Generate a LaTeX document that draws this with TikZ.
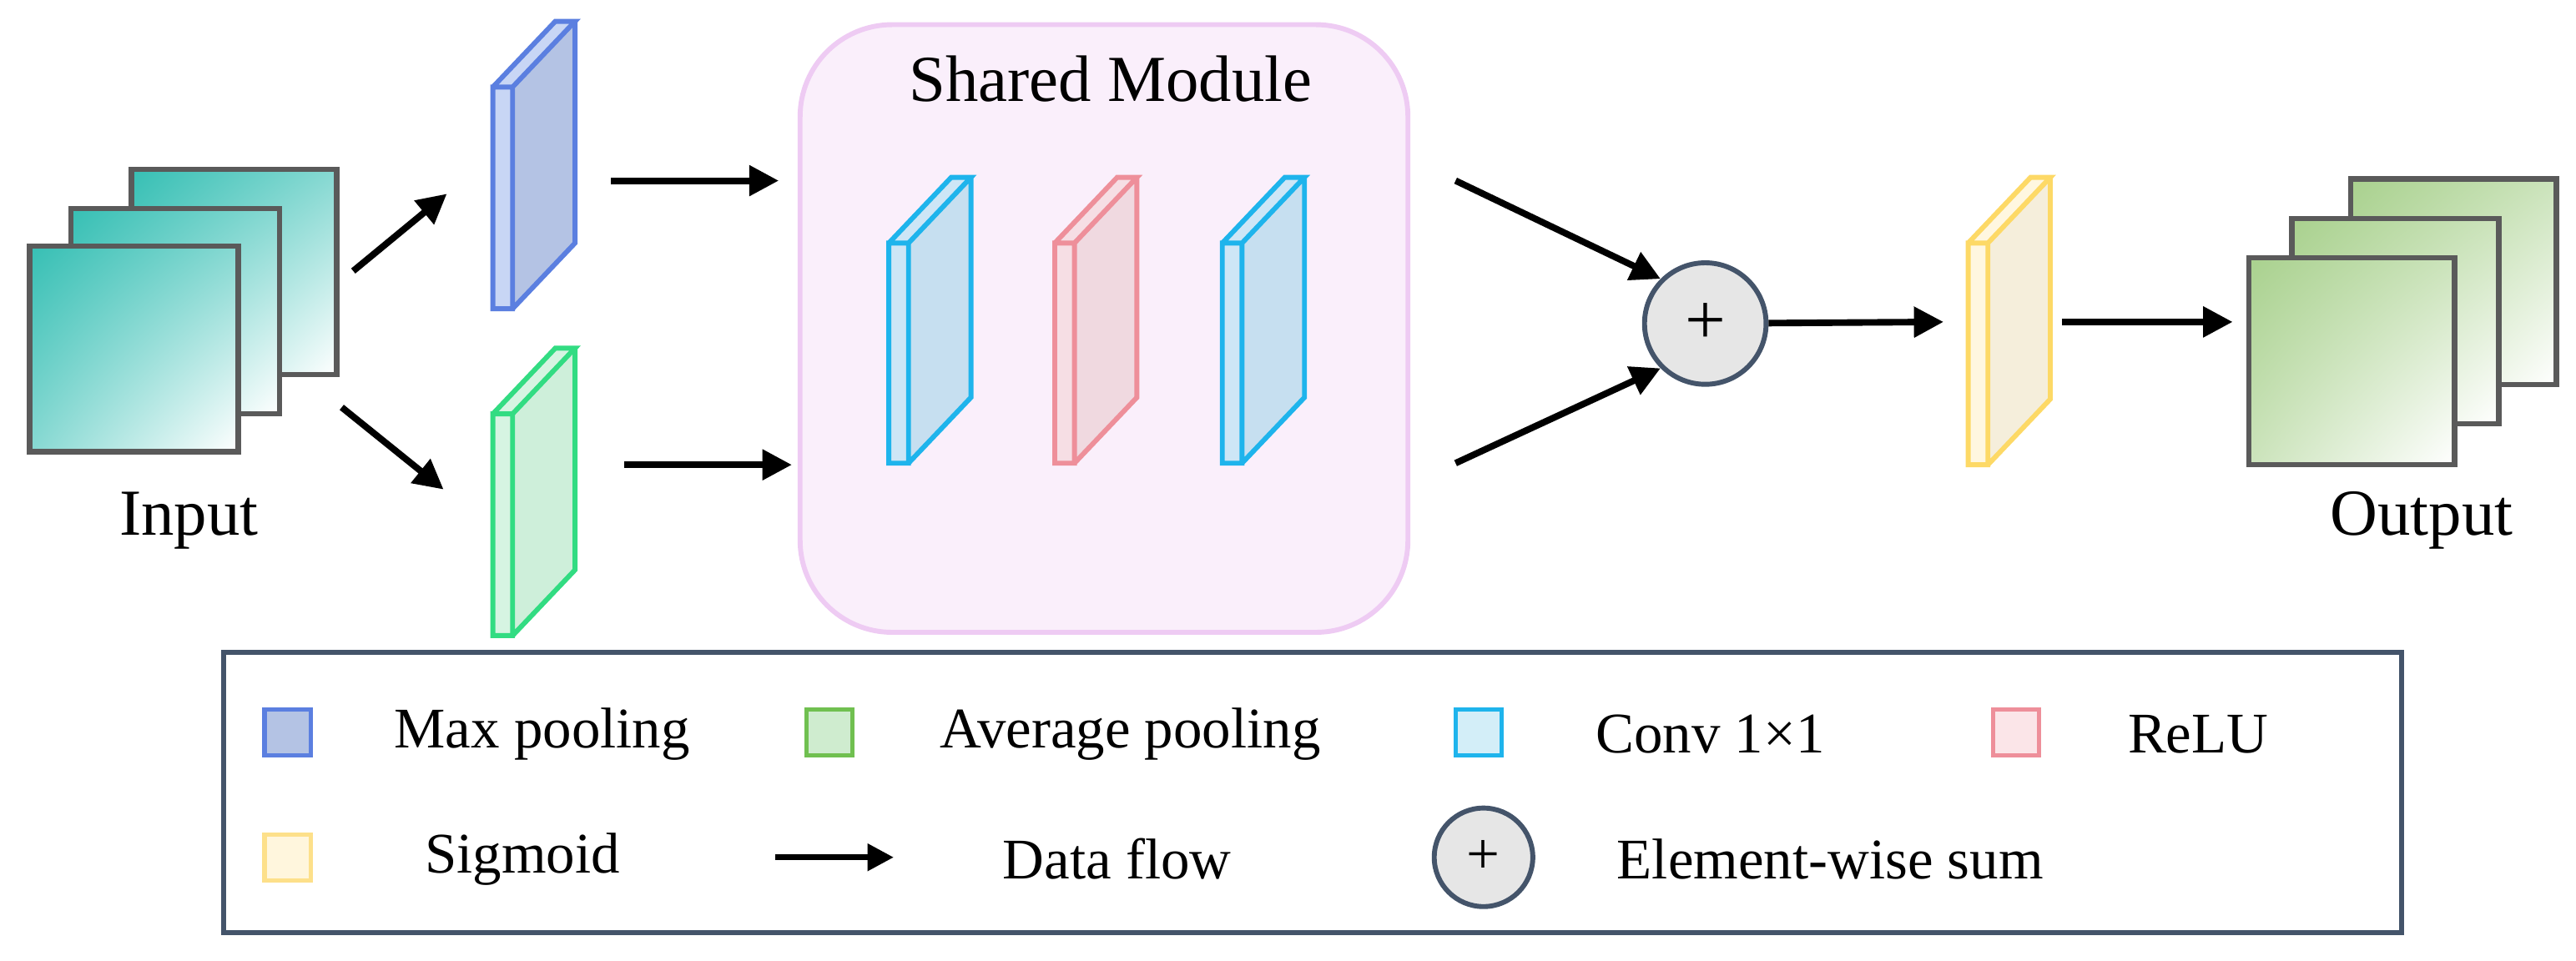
\documentclass[tikz,border=0pt]{standalone}
\usepackage{fontspec}
\setmainfont{Liberation Serif}
\usetikzlibrary{arrows.meta,shadings}
\definecolor{teal1}{HTML}{36BFB4}
\definecolor{gr1}{HTML}{A9D18E}
\definecolor{frm}{HTML}{5A5A5A}
\definecolor{navy}{HTML}{44546A}
\definecolor{bB}{RGB}{91,127,224}\definecolor{bF}{RGB}{180,195,228}\definecolor{bS}{RGB}{200,214,245}
\definecolor{gB}{RGB}{50,220,130}\definecolor{gF}{RGB}{206,239,218}\definecolor{gS}{RGB}{214,244,226}
\definecolor{cB}{RGB}{30,180,236}\definecolor{cF}{RGB}{198,223,240}\definecolor{cS}{RGB}{205,230,246}
\definecolor{rB}{RGB}{238,143,154}\definecolor{rF}{RGB}{240,217,224}\definecolor{rS}{RGB}{246,222,228}
\definecolor{yB}{RGB}{253,217,102}\definecolor{yF}{RGB}{245,238,219}\definecolor{yS}{RGB}{255,247,224}
\definecolor{smB}{RGB}{238,203,243}\definecolor{smF}{RGB}{250,239,251}
\definecolor{sumF}{RGB}{230,230,230}
\definecolor{lgB}{RGB}{112,192,80}\definecolor{lgF}{RGB}{207,236,207}
\definecolor{lcF}{RGB}{211,238,248}\definecolor{lrF}{RGB}{251,229,232}
\definecolor{lyB}{RGB}{253,224,138}\definecolor{lyF}{RGB}{255,246,221}
\newcommand\myslab[6]{% x, ytop(front), h, border, fill, frontfill
 \fill[fill=#5] (#1+12,#2) -- (#1+12+38,#2-40) -- (#1+12+38,#2-40+#3) -- (#1+12,#2+#3) -- cycle;
 \fill[fill=#6] (#1,#2) rectangle (#1+12,#2+#3);
 \fill[fill=#6] (#1,#2) -- (#1+38,#2-40) -- (#1+50,#2-40) -- (#1+12,#2) -- cycle;
 \draw[draw=#4,line width=1.5pt,line join=miter] (#1,#2) rectangle (#1+12,#2+#3)
   (#1,#2) -- (#1+38,#2-40) -- (#1+50,#2-40) -- (#1+12,#2)
   (#1+50,#2-40) -- (#1+50,#2-40+#3) -- (#1+12,#2+#3);}
\newcommand\mysheet[5]{% x1,y1,x2,y2,colour
 \shade[upper left=#5,upper right=#5!60!white,lower left=#5!60!white,lower right=white] (#1,#2) rectangle (#3,#4);
 \draw[frm,line width=1.6pt] (#1,#2) rectangle (#3,#4);}
\begin{document}
\begin{tikzpicture}[x=0.5pt,y=-0.5pt,
  flow/.style={line width=2pt,-{Triangle[length=9pt,width=9pt]}},
  lab/.style={font=\fontsize{20}{24}\selectfont},
  leg/.style={font=\fontsize{17.5}{21}\selectfont},
  icon/.style={line width=1.3pt,minimum size=14pt,inner sep=0pt}]
\useasboundingbox (0,0) rectangle (1568,585);
% input
\mysheet{80}{103}{205}{228}{teal1}
\mysheet{43}{127}{170}{252}{teal1}
\mysheet{18}{150}{145}{275}{teal1}
\node[lab] (inp) at (115,317) {Input};
% pooling slabs
\myslab{300}{53}{135}{bB}{bF}{bS}
\myslab{300}{252}{135}{gB}{gF}{gS}
\coordinate (a1s) at (215,165); \coordinate (a1e) at (272,118);
\coordinate (a2s) at (208,248); \coordinate (a2e) at (270,298);
\draw[flow] (a1s) -- (a1e); \draw[flow] (a2s) -- (a2e);
\coordinate (b1s) at (372,110); \coordinate (b1e) at (474,110);
\coordinate (b2s) at (380,283); \coordinate (b2e) at (482,283);
\draw[flow] (b1s) -- (b1e); \draw[flow] (b2s) -- (b2e);
% shared module
\draw[draw=smB,fill=smF,line width=1.5pt,rounded corners=28pt] (487,15) rectangle (857,385);
\node[lab] (sm) at (676,48) {Shared Module};
\myslab{541}{148}{134}{cB}{cF}{cS}
\myslab{642}{148}{134}{rB}{rF}{rS}
\myslab{744}{148}{134}{cB}{cF}{cS}
% sum
\node[circle,draw=navy,fill=sumF,line width=1.5pt,minimum size=37pt,inner sep=0pt,font=\fontsize{22}{24}\selectfont] (sum) at (1038,197) {+};
\coordinate (c1s) at (886,110); \coordinate (c2s) at (886,282);
\draw[flow] (c1s) -- (sum.135); \draw[flow] (c2s) -- (sum.225);
\myslab{1198}{148}{135}{yB}{yF}{yS}
\coordinate (ys) at (1183,196); \coordinate (ye) at (1255,196); \coordinate (oe) at (1359,196);
\draw[flow] (sum) -- (ys); \draw[flow] (ye) -- (oe);
% output
\mysheet{1431}{109}{1556}{234}{gr1}
\mysheet{1395}{133}{1521}{258}{gr1}
\mysheet{1369}{157}{1494}{283}{gr1}
\node[lab] (out) at (1474,317) {Output};
% legend
\draw[navy,line width=1.5pt] (136,397) rectangle (1462,568);
\node[icon,draw=bB,fill=bF] (l1) at (175,446) {};
\node[leg] at (330,447) {Max pooling};
\node[icon,draw=lgB,fill=lgF] (l2) at (505,446) {};
\node[leg] at (688,447) {Average pooling};
\node[icon,draw=cB,fill=lcF] (l3) at (900,446) {};
\node[leg] at (1041,447) {Conv 1×1};
\node[icon,draw=rB,fill=lrF] (l4) at (1227,446) {};
\node[leg] at (1338,447) {ReLU};
\node[icon,draw=lyB,fill=lyF] (l5) at (175,522) {};
\node[leg] at (318,523) {Sigmoid};
\coordinate (ls) at (472,522); \coordinate (le) at (544,522);
\draw[line width=1.8pt,-{Triangle[length=8pt,width=8pt]}] (ls) -- (le);
\node[leg] at (680,523) {Data flow};
\node[circle,draw=navy,fill=sumF,line width=1.5pt,minimum size=30pt,inner sep=0pt,font=\fontsize{18}{20}\selectfont] (l6) at (903,522) {+};
\node[leg] at (1114,523) {Element-wise sum};
\end{tikzpicture}
\end{document}
